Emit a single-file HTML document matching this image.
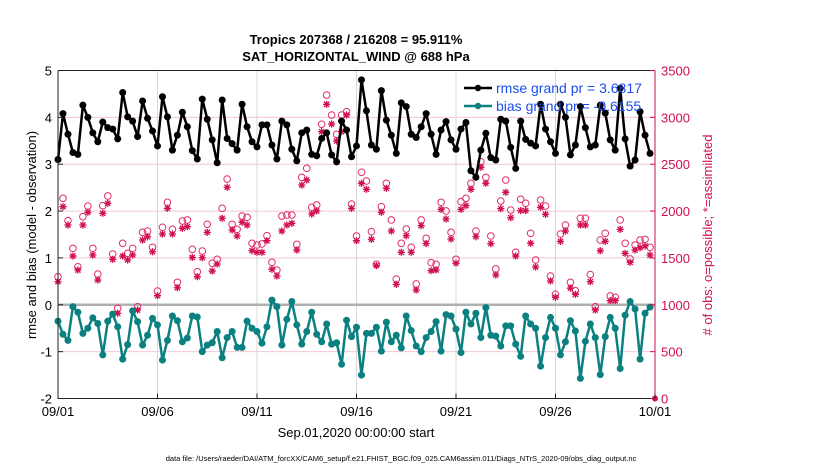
<!DOCTYPE html>
<html><head><meta charset="utf-8">
<style>
html,body{margin:0;padding:0;background:#fff;}
svg{display:block;font-family:"Liberation Sans",Arial,sans-serif;}
</style></head>
<body>
<svg id="chart" width="830" height="470" viewBox="0 0 830 470" xmlns="http://www.w3.org/2000/svg">
  <rect x="0" y="0" width="830" height="470" fill="#fff"/>
  <text x="356" y="44" text-anchor="middle" font-size="13" font-weight="bold" fill="#000">Tropics 207368 / 216208 = 95.911%</text>
  <text x="356" y="61" text-anchor="middle" font-size="13" font-weight="bold" fill="#000">SAT_HORIZONTAL_WIND @ 688 hPa</text>
  <g id="grid"></g>
  <g id="marks"></g>
  <g id="axes"></g>
  <text transform="translate(36,235) rotate(-90)" text-anchor="middle" font-size="13" fill="#000">rmse and bias (model - observation)</text>
  <text transform="translate(712,235) rotate(-90)" text-anchor="middle" font-size="13" fill="#d0104c"># of obs: o=possible; *=assimilated</text>
  <text x="356" y="437" text-anchor="middle" font-size="13" fill="#000">Sep.01,2020 00:00:00 start</text>
  <text x="401" y="461" text-anchor="middle" font-size="7.5" fill="#000">data file: /Users/raeder/DAI/ATM_forcXX/CAM6_setup/f.e21.FHIST_BGC.f09_025.CAM6assim.011/Diags_NTrS_2020-09/obs_diag_output.nc</text>
  <g id="legend">
    <line x1="464" y1="88" x2="492" y2="88" stroke="#000" stroke-width="2.5"/>
    <circle cx="478" cy="88" r="3.2" fill="#000"/>
    <text x="496" y="93" font-size="14" fill="#1a4ef0">rmse grand pr = 3.6817</text>
    <line x1="464" y1="106" x2="492" y2="106" stroke="#0a8080" stroke-width="2.5"/>
    <circle cx="478" cy="106" r="3.2" fill="#0a8080"/>
    <text x="496" y="111" font-size="14" fill="#1a4ef0">bias grand pr = -0.6155</text>
  </g>
</svg>
<script>
const rmse = [3.10,4.08,3.64,3.25,3.21,4.26,4.00,3.67,3.48,3.90,3.78,3.75,3.54,4.53,4.01,3.92,3.59,4.35,3.98,3.71,3.39,4.44,4.01,3.30,3.62,4.11,3.80,3.29,3.11,4.39,3.96,3.52,3.03,4.37,3.55,3.44,3.30,4.28,3.80,3.48,3.37,3.84,3.84,3.41,3.11,3.92,3.84,3.32,3.07,3.67,3.73,3.21,3.18,3.55,3.67,3.20,3.05,3.92,3.73,3.16,3.39,4.80,4.14,3.41,3.32,4.57,3.94,3.62,3.23,4.31,4.23,3.64,3.57,3.80,4.08,3.64,3.21,3.73,3.91,3.52,3.32,3.75,3.89,2.86,2.72,3.30,3.66,3.14,3.09,3.96,3.92,3.36,2.91,3.92,3.53,3.45,3.39,4.28,3.75,3.48,3.23,4.28,4.00,3.20,3.41,4.23,3.78,3.37,3.41,4.26,4.09,3.52,3.30,4.62,3.54,2.96,3.09,4.12,3.62,3.23];
const bias = [-0.35,-0.63,-0.76,-0.04,-0.16,-0.61,-0.50,-0.28,-0.40,-1.07,-0.35,-0.20,-0.47,-1.16,-0.85,-0.13,-0.36,-0.86,-0.65,-0.29,-0.43,-1.18,-0.76,-0.24,-0.34,-0.79,-0.71,-0.24,-0.26,-1.00,-0.86,-0.81,-0.57,-1.13,-0.70,-0.57,-0.91,-0.91,-0.35,-0.50,-0.57,-0.82,-0.47,0.10,-0.04,-0.86,-0.31,0.07,-0.43,-0.84,-0.57,-0.16,-0.63,-0.79,-0.41,-0.84,-0.81,-1.27,-0.33,-0.68,-0.48,-1.50,-0.61,-0.61,-0.48,-0.99,-0.37,-0.79,-0.65,-0.92,-0.24,-0.55,-0.88,-1.00,-0.70,-0.57,-0.36,-0.99,-0.21,-0.24,-0.52,-1.02,-0.16,-0.41,-0.18,-0.70,-0.06,-0.65,-0.67,-0.88,-0.45,-0.45,-0.84,-1.10,-0.24,-0.41,-0.50,-1.31,-0.70,-0.27,-0.50,-1.07,-0.79,-0.34,-0.56,-1.57,-0.78,-0.41,-0.70,-1.49,-0.68,-0.27,-0.50,-1.36,-0.22,0.07,-0.09,-1.16,-0.18,-0.05];
const possible = [1300,2136,1897,1602,1406,1940,2054,1602,1328,2058,2161,1542,962,1656,1549,1602,980,1773,1787,1613,1147,1827,2093,1805,1240,1894,1905,1592,1353,1574,1859,1443,1485,2029,2342,1859,1805,1947,1933,1656,1638,1649,1737,1453,1371,1947,1958,1958,1645,2360,2456,2040,2065,2926,3238,3025,2819,3025,3060,2075,1734,2414,2321,1780,1432,2047,2296,1905,1275,1656,1808,1613,1222,1905,1709,1449,1432,2093,2001,1773,1485,2100,2136,2296,1787,2527,2360,1734,1382,2107,2331,2011,1560,2125,2083,1763,1478,2118,2054,1307,1112,1755,1851,1240,1150,1923,1923,1323,980,1691,1763,1094,1080,1905,1656,1489,1638,1691,1698,1613];
const assimilated = [1246,2047,1851,1520,1371,1851,1987,1531,1264,1976,2083,1485,909,1520,1478,1531,944,1691,1726,1566,1097,1755,2029,1755,1182,1816,1834,1505,1300,1502,1773,1360,1435,1923,2254,1798,1734,1880,1851,1577,1560,1560,1684,1379,1307,1787,1851,1869,1584,2278,2331,1969,2002,2847,3139,2929,2748,2847,3025,2029,1684,2296,2232,1699,1418,1987,2243,1787,1218,1560,1737,1560,1158,1844,1653,1364,1371,2018,1915,1702,1444,2018,2058,2232,1726,2467,2296,1653,1318,2026,2200,1929,1520,2005,2005,1656,1403,2040,1965,1254,1080,1677,1787,1177,1112,1851,1851,1247,944,1577,1677,1044,1044,1805,1549,1453,1584,1609,1627,1531];
const leftTicks = [5,4,3,2,1,0,-1,-2];
const rightTicks = [0,500,1000,1500,2000,2500,3000,3500];
const dateTicks = ["09/01","09/06","09/11","09/16","09/21","09/26","10/01"];
const dateTickDays = [0,5,10,15,20,25,30];

const NS = "http://www.w3.org/2000/svg";
const PL = 58, PR = 655, PT = 70.5, PB = 398.5;
const xOfDay = d => PL + (PR - PL) * d / 30;
const xOfIdx = i => xOfDay(i * 0.25);
const yL = v => PB - (v + 2) * (PB - PT) / 7;
const yR = c => PB - c * (PB - PT) / 3500;

function mk(tag, attrs, parent) {
  const e = document.createElementNS(NS, tag);
  for (const k in attrs) e.setAttribute(k, attrs[k]);
  parent.appendChild(e);
  return e;
}
const grid = document.getElementById('grid');
const marks = document.getElementById('marks');
const axes = document.getElementById('axes');

rightTicks.forEach(c => {
  const l = mk('line', {x1: PL, x2: PR, y1: yR(c), y2: yR(c), stroke: '#f4c6d4', 'stroke-width': 1}, grid);
  
  
});
dateTickDays.forEach(d => {
  const l = mk('line', {x1: xOfDay(d), x2: xOfDay(d), y1: PT, y2: PB, stroke: '#d8d8d8', 'stroke-width': 1}, grid);
  
  
});
const zl = mk('line', {x1: PL, x2: PR, y1: yL(0), y2: yL(0), stroke: '#b0b0b0', 'stroke-width': 2.5}, grid);



// obs counts
possible.forEach((c, i) => {
  const e = mk('circle', {cx: xOfIdx(i), cy: yR(c), r: 3.3, fill: 'none', stroke: '#e0306a', 'stroke-width': 1}, marks);
  
  
});
assimilated.forEach((c, i) => {
  const x = xOfIdx(i), y = yR(c), r = 3.6, d = 2.6;
  const p = `M${x},${y-r}V${y+r}M${x-r},${y}H${x+r}M${x-d},${y-d}L${x+d},${y+d}M${x-d},${y+d}L${x+d},${y-d}`;
  const e = mk('path', {d: p, stroke: '#d0104c', 'stroke-width': 1.3, fill: 'none'}, marks);
  
  
});

function series(vals, color, name) {
  const pts = vals.map((v, i) => xOfIdx(i).toFixed(1) + ',' + yL(v).toFixed(1)).join(' ');
  const pl = mk('polyline', {points: pts, fill: 'none', stroke: color, 'stroke-width': 2.5, 'stroke-linejoin': 'round'}, marks);
  
  
  vals.forEach((v, i) => {
    const c = mk('circle', {cx: xOfIdx(i), cy: yL(v), r: 3.5, fill: color}, marks);
    
    
  });
}
series(bias, '#0a8080', 'bias');
series(rmse, '#000', 'rmse');

const cm = mk('circle', {cx: PR, cy: PB, r: 3, fill: '#d0104c'}, marks);



const fr = mk('path', {d: `M${PL},${PT} H${PR} M${PL},${PT} V${PB} H${PR}`, fill: 'none', stroke: '#222', 'stroke-width': 1}, axes);


const ra = mk('line', {x1: PR, x2: PR, y1: PT, y2: PB, stroke: '#d0104c', 'stroke-width': 1}, axes);



leftTicks.forEach(v => {
  const t = mk('line', {x1: PL, x2: PL + 5, y1: yL(v), y2: yL(v), stroke: '#222'}, axes);
  
  
  const lb = mk('text', {x: PL - 6, y: yL(v) + 5, 'text-anchor': 'end', 'font-size': 13, fill: '#000'}, axes);
  lb.textContent = String(v);
  
  
});
rightTicks.forEach(c => {
  const t = mk('line', {x1: PR - 5, x2: PR, y1: yR(c), y2: yR(c), stroke: '#d0104c'}, axes);
  
  
  const lb = mk('text', {x: PR + 6, y: yR(c) + 5, 'text-anchor': 'start', 'font-size': 13, fill: '#d0104c'}, axes);
  lb.textContent = String(c);
  
  
});
dateTicks.forEach((s, k) => {
  const x = xOfDay(dateTickDays[k]);
  const t = mk('line', {x1: x, x2: x, y1: PB, y2: PB - 5, stroke: '#222'}, axes);
  
  
  const lb = mk('text', {x: x, y: 416, 'text-anchor': 'middle', 'font-size': 13, fill: '#000'}, axes);
  lb.textContent = s;
  
  
});
</script>
</body></html>
